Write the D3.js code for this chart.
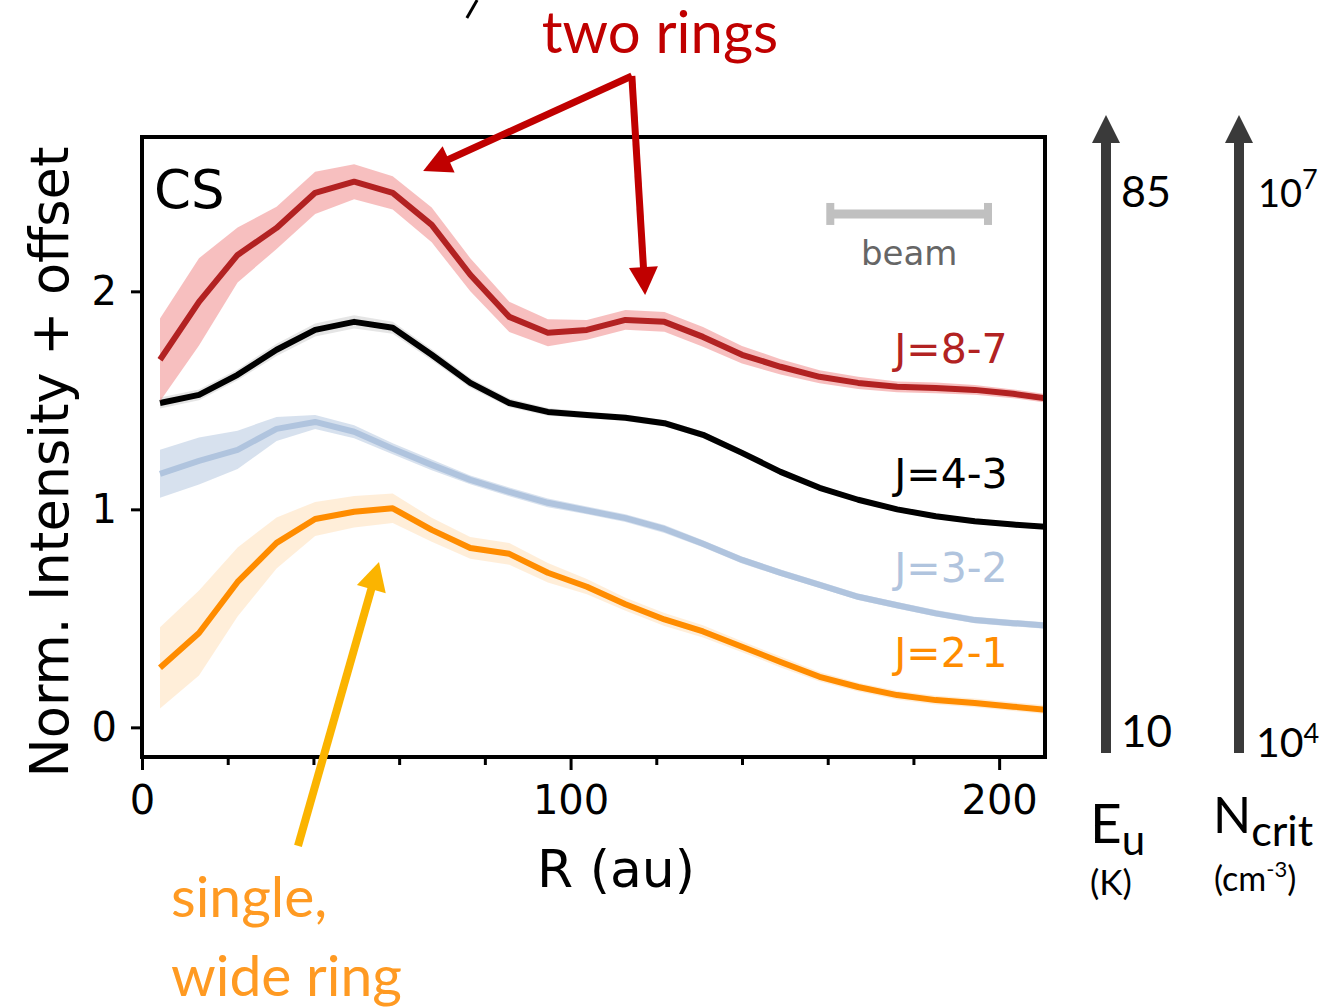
<!DOCTYPE html>
<html lang="en">
<head>
<meta charset="UTF-8">
<title>CS radial profiles</title>
<script src="https://cdn.jsdelivr.net/npm/d3@7"></script>
<style>
    body { margin: 0; background: #fff; }
    .tick text { font-family: "DejaVu Sans", sans-serif; font-size: 40px; fill: #000; }
    .tick line { stroke: #000; stroke-width: 3px; }
    .gill { font-family: Lato, "Open Sans", sans-serif; }
</style>
</head>
<body>
<svg width="1335" height="1008"></svg>
<script>
// radius of each sample (au)
var radius = [4.2, 13.3, 22.3, 31.4, 40.4, 49.5, 58.5, 67.6, 76.6, 85.7, 94.7, 103.8,
              112.8, 121.9, 130.9, 140.0, 149.0, 158.1, 167.1, 176.2, 185.2, 194.3, 203.3, 212.4];

// normalised intensity + offset, and 1-sigma half width of the band
var cs21 = [0.273, 0.433, 0.667, 0.846, 0.956, 0.989, 1.005, 0.906, 0.823, 0.796, 0.709, 0.645,
            0.565, 0.495, 0.440, 0.370, 0.300, 0.232, 0.185, 0.148, 0.125, 0.112, 0.095, 0.078];
var err21 = [0.186, 0.195, 0.158, 0.117, 0.078, 0.072, 0.068, 0.055, 0.050, 0.050, 0.045, 0.035,
             0.030, 0.030, 0.028, 0.025, 0.025, 0.022, 0.020, 0.020, 0.020, 0.020, 0.020, 0.020];

var cs32 = [1.163, 1.222, 1.273, 1.369, 1.401, 1.356, 1.278, 1.204, 1.135, 1.080, 1.030, 0.995,
            0.960, 0.910, 0.842, 0.768, 0.709, 0.654, 0.599, 0.560, 0.523, 0.492, 0.478, 0.465];
var err32 = [0.110, 0.108, 0.088, 0.055, 0.032, 0.030, 0.025, 0.025, 0.020, 0.020, 0.020, 0.018,
             0.018, 0.018, 0.016, 0.016, 0.015, 0.015, 0.015, 0.015, 0.015, 0.015, 0.015, 0.015];

var cs43 = [1.488, 1.525, 1.617, 1.732, 1.823, 1.860, 1.833, 1.709, 1.580, 1.488, 1.447, 1.433,
            1.420, 1.395, 1.342, 1.259, 1.172, 1.099, 1.044, 1.000, 0.968, 0.945, 0.930, 0.918];
var err43 = [0.025, 0.025, 0.025, 0.028, 0.030, 0.030, 0.028, 0.025, 0.022, 0.020, 0.018, 0.015,
             0.015, 0.015, 0.015, 0.015, 0.012, 0.012, 0.012, 0.012, 0.012, 0.012, 0.012, 0.012];

var cs87 = [1.686, 1.952, 2.167, 2.291, 2.452, 2.503, 2.452, 2.305, 2.076, 1.883, 1.810, 1.823,
            1.869, 1.860, 1.791, 1.709, 1.654, 1.608, 1.580, 1.562, 1.557, 1.548, 1.530, 1.505];
var err87 = [0.190, 0.200, 0.126, 0.097, 0.097, 0.080, 0.076, 0.080, 0.076, 0.069, 0.062, 0.045,
             0.045, 0.045, 0.045, 0.040, 0.035, 0.030, 0.028, 0.025, 0.025, 0.022, 0.020, 0.020];

var xTicks = [0, 100, 200];
var xMinor = [20, 40, 60, 80, 120, 140, 160, 180];
var yTicks = [0, 1, 2];

var svg = d3.select("svg");
var pLeft = 142, pRight = 1045, pTop = 137, pBottom = 757;

var x = d3.scaleLinear().domain([0, 210.7]).range([pLeft, pRight]);
var y = d3.scaleLinear().domain([-0.136, 2.708]).range([pBottom, pTop]);

// series drawn bottom to top; the line sits on its own band
var series = [
    { label: "J=2-1", vals: cs21, err: err21, color: "#ff8c00", band: "#ff8c00", op: 0.15, ly: 0.278 },
    { label: "J=3-2", vals: cs32, err: err32, color: "#b0c4de", band: "#b0c4de", op: 0.5, ly: 0.667 },
    { label: "J=4-3", vals: cs43, err: err43, color: "#000000", band: "#999999", op: 0.25, ly: 1.098 },
    { label: "J=8-7", vals: cs87, err: err87, color: "#b22222", band: "#f08080", op: 0.5, ly: 1.672 }
];

svg.append("clipPath").attr("id", "plotclip")
    .append("rect")
    .attr("x", pLeft).attr("y", pTop)
    .attr("width", pRight - pLeft).attr("height", pBottom - pTop);

var plot = svg.append("g").attr("clip-path", "url(#plotclip)");

var area = d3.area()
    .x(function(d) { return x(d.r); })
    .y0(function(d) { return y(d.v - d.e); })
    .y1(function(d) { return y(d.v + d.e); });

var line = d3.line()
    .x(function(d) { return x(d.r); })
    .y(function(d) { return y(d.v); });

series.forEach(function(s) {
    var pts = radius.map(function(r, i) { return { r: r, v: s.vals[i], e: s.err[i] }; });
    plot.append("path").datum(pts)
        .attr("d", area)
        .attr("fill", s.band)
        .attr("fill-opacity", s.op);
    plot.append("path").datum(pts)
        .attr("d", line)
        .attr("fill", "none")
        .attr("stroke", s.color)
        .attr("stroke-width", 6)
        .attr("stroke-linejoin", "round");
    svg.append("text")
        .attr("x", x(202))
        .attr("y", y(s.ly))
        .attr("text-anchor", "end")
        .attr("font-family", "DejaVu Sans, sans-serif")
        .attr("font-size", 41)
        .attr("fill", s.color)
        .text(s.label);
});

// axes
svg.append("g")
    .attr("transform", "translate(0," + pBottom + ")")
    .call(d3.axisBottom(x).tickValues(xMinor).tickSize(8).tickFormat(""))
    .call(function(g) { g.select(".domain").remove(); });

svg.append("g")
    .attr("transform", "translate(0," + pBottom + ")")
    .call(d3.axisBottom(x).tickValues(xTicks).tickSize(13).tickPadding(16).tickFormat(d3.format("d")))
    .call(function(g) { g.select(".domain").remove(); });

svg.append("g")
    .attr("transform", "translate(" + pLeft + ",0)")
    .call(d3.axisLeft(y).tickValues(yTicks).tickSize(11).tickPadding(14).tickFormat(d3.format("d")))
    .call(function(g) { g.select(".domain").remove(); });

svg.append("rect")
    .attr("x", pLeft).attr("y", pTop)
    .attr("width", pRight - pLeft).attr("height", pBottom - pTop)
    .attr("fill", "none")
    .attr("stroke", "#000")
    .attr("stroke-width", 4);

svg.append("text")
    .attr("transform", "translate(68,462) rotate(-90)")
    .attr("text-anchor", "middle")
    .attr("font-family", "DejaVu Sans, sans-serif")
    .attr("font-size", 52.5)
    .text("Norm. Intensity + offset");

svg.append("text")
    .attr("x", 616).attr("y", 887)
    .attr("text-anchor", "middle")
    .attr("font-family", "DejaVu Sans, sans-serif")
    .attr("font-size", 52)
    .text("R (au)");

svg.append("text")
    .attr("x", 154).attr("y", 208)
    .attr("font-family", "DejaVu Sans, sans-serif")
    .attr("font-size", 53)
    .text("CS");

// beam size bar
var beam = [160.6, 197.4], beamY = 2.355;
svg.append("line")
    .attr("x1", x(beam[0])).attr("x2", x(beam[1]))
    .attr("y1", y(beamY)).attr("y2", y(beamY))
    .attr("stroke", "#c0c0c0").attr("stroke-width", 9);
beam.forEach(function(b) {
    svg.append("line")
        .attr("x1", x(b)).attr("x2", x(b))
        .attr("y1", y(beamY) - 11).attr("y2", y(beamY) + 11)
        .attr("stroke", "#c0c0c0").attr("stroke-width", 8);
});
svg.append("text")
    .attr("x", x((beam[0] + beam[1]) / 2)).attr("y", 265)
    .attr("text-anchor", "middle")
    .attr("font-family", "DejaVu Sans, sans-serif")
    .attr("font-size", 34)
    .attr("fill", "#666")
    .text("beam");

// arrow: shaft + triangular head, in pixel space
function arrow(x1, y1, x2, y2, color, w, hl, hw) {
    var dx = x2 - x1, dy = y2 - y1, len = Math.sqrt(dx * dx + dy * dy);
    var ux = dx / len, uy = dy / len;
    var bx = x2 - ux * hl, by = y2 - uy * hl;
    svg.append("line")
        .attr("x1", x1).attr("y1", y1)
        .attr("x2", bx + ux * 2).attr("y2", by + uy * 2)
        .attr("stroke", color).attr("stroke-width", w);
    svg.append("polygon")
        .attr("points", [[x2, y2], [bx - uy * hw / 2, by + ux * hw / 2], [bx + uy * hw / 2, by - ux * hw / 2]].join(" "))
        .attr("fill", color);
}

// "two rings" arrows (data coords)
var fork = [114.3, 2.988], ring1 = [65.6, 2.552], ring2 = [117.4, 1.983];
arrow(x(fork[0]), y(fork[1]), x(ring1[0]), y(ring1[1]), "#c00000", 7, 28, 29);
arrow(x(fork[0]), y(fork[1]), x(ring2[0]), y(ring2[1]), "#c00000", 7, 28, 29);

// "single, wide ring" arrow
var wideTail = [36.4, -0.544], wideTip = [55.3, 0.758];
arrow(x(wideTail[0]), y(wideTail[1]), x(wideTip[0]), y(wideTip[1]), "#fbb400", 8, 28, 30);

// stray stroke at the top edge (cut off in the original)
svg.append("line")
    .attr("x1", x(78.2)).attr("y1", y(3.336))
    .attr("x2", x(75.8)).attr("y2", y(3.254))
    .attr("stroke", "#000").attr("stroke-width", 3);

svg.append("text").attr("class", "gill")
    .attr("x", 660).attr("y", 53)
    .attr("text-anchor", "middle")
    .attr("font-size", 58)
    .attr("fill", "#c00000")
    .text("two rings");

var wide = svg.append("text").attr("class", "gill")
    .attr("font-size", 57)
    .attr("fill", "#ff9a22");
wide.append("tspan").attr("x", 171).attr("y", 917).text("single,");
wide.append("tspan").attr("x", 171).attr("y", 996).text("wide ring");

// upper-level energy and critical density scales
var eu = 1106, nc = 1239;
arrow(eu, 753, eu, 115, "#3a3a3a", 10, 28, 28);
arrow(nc, 753, nc, 115, "#3a3a3a", 10, 28, 28);

function gtext(xp, yp, size, str) {
    return svg.append("text").attr("class", "gill")
        .attr("x", xp).attr("y", yp)
        .attr("font-size", size)
        .text(str);
}

gtext(1121, 207, 43, "85");
gtext(1121, 747, 44, "10");

var t7 = gtext(1258, 207, 38, "10");
t7.append("tspan").attr("font-size", 27).attr("dy", -18).text("7");
var t4 = gtext(1256, 757, 41, "10");
t4.append("tspan").attr("font-size", 27).attr("dy", -14).text("4");

var e = gtext(1090, 843, 55, "E");
e.append("tspan").attr("font-size", 42).attr("dy", 12).text("u");
gtext(1090, 895, 35, "(K)");

var n = gtext(1213, 833, 50, "N");
n.append("tspan").attr("font-size", 43).attr("dy", 13).text("crit");
var cm = gtext(1214, 891, 34, "(cm");
cm.append("tspan").attr("font-size", 22).attr("dy", -14).text("-3");
cm.append("tspan").attr("dy", 14).text(")");
</script>
</body>
</html>
